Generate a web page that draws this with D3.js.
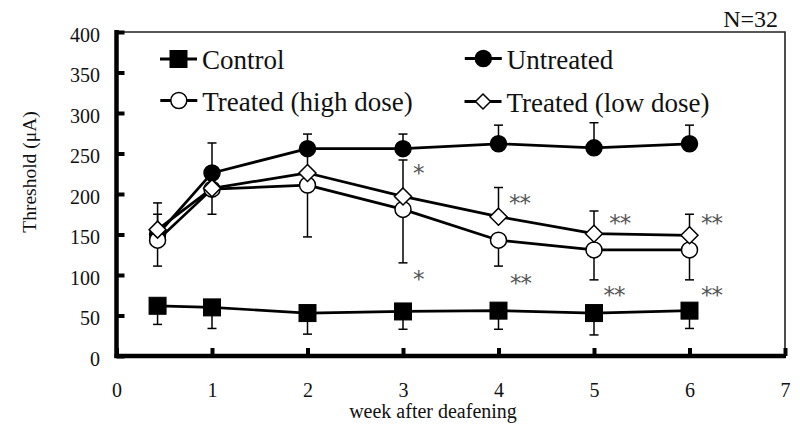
<!DOCTYPE html>
<html><head><meta charset="utf-8">
<script src="https://cdn.jsdelivr.net/npm/d3@7"></script>
<style>body{margin:0;background:#fff}svg{display:block}</style>
</head><body>
<svg id="c" width="800" height="432"></svg>
<script>
// ---- data ----
const weeks = [0.43, 1, 2, 3, 4, 5, 6];
const control = [62, 60, 53, 55, 56, 53, 56];
const controlErr = [23, 26, 26, 22, 23, 27, 22];          // drawn downward
const untreated = [150, 226, 256, 256, 262, 257, 262];
const untreatedErr = [25, 37, 18, 18, 23, 31, 23];        // drawn upward
const highDose = [143, 206, 211, 181, 143, 131, 131];
const highDoseErr = [32, 31, 64, 66, 32, 37, 37];         // drawn downward
const lowDose = [156, 207, 226, 197, 172, 151, 149];
const lowDoseErr = [33, 25, 25, 45, 36, 28, 26];          // drawn upward
const xTicks = [0, 1, 2, 3, 4, 5, 6, 7];
const yTicks = [0, 50, 100, 150, 200, 250, 300, 350, 400];
const seriesNames = ["Control", "Untreated", "Treated (high dose)", "Treated (low dose)"];
const stars = [
  {x: 3.16, y: 232, t: "*"}, {x: 3.16, y: 101, t: "*"},
  {x: 4.22, y: 195, t: "**"}, {x: 4.23, y: 96, t: "**"},
  {x: 5.27, y: 170, t: "**"}, {x: 5.21, y: 81, t: "**"},
  {x: 6.23, y: 170, t: "**"}, {x: 6.23, y: 81, t: "**"}
];
const nLabel = "N=32";
const xTitle = "week after deafening";
const yTitle = "Threshold (\u03bcA)";

// ---- chart ----
const svg = d3.select("#c");
const font = "'Liberation Serif','Times New Roman',serif";
const x = d3.scaleLinear().domain([0, 7]).range([116.5, 785]);
const y = d3.scaleLinear().domain([0, 400]).range([356, 32]);

const series = [
  {name: seriesNames[0], vals: control, err: controlErr, dir: -1, shape: "square", fill: "#000"},
  {name: seriesNames[1], vals: untreated, err: untreatedErr, dir: 1, shape: "circle", fill: "#000"},
  {name: seriesNames[2], vals: highDose, err: highDoseErr, dir: -1, shape: "circle", fill: "#fff"},
  {name: seriesNames[3], vals: lowDose, err: lowDoseErr, dir: 1, shape: "diamond", fill: "#fff"}
];

// border (thin top/right)
svg.append("path")
  .attr("d", `M${x(0)},${y(400)}H${x(7)}V${y(0)}`)
  .attr("fill", "none").attr("stroke", "#222").attr("stroke-width", 1.6);

// axes
const gy = svg.append("g").attr("transform", `translate(${x(0)},0)`)
  .call(d3.axisLeft(y).tickValues(yTicks).tickFormat(d3.format("d")).tickSizeInner(-8).tickSizeOuter(0).tickPadding(16.5));
const gx = svg.append("g").attr("transform", `translate(0,${y(0)})`)
  .call(d3.axisBottom(x).tickValues(xTicks).tickFormat(d3.format("d")).tickSizeInner(-8).tickSizeOuter(0).tickPadding(27));
[gy, gx].forEach(g => {
  g.select(".domain").attr("stroke", "#000").attr("stroke-width", 4.5);
  g.selectAll(".tick line").attr("stroke", "#000").attr("stroke-width", 4);
  g.selectAll(".tick text").attr("font-family", font).attr("font-size", 20).attr("fill", "#111");
});
gy.selectAll(".tick text").attr("dy", "0.45em");
gy.select(".domain").attr("d", `M0,${y(400)-2}V${y(0)+2}`);
gx.select(".domain").attr("d", `M${x(0)-2},0H${x(7)+1}`);

// titles
svg.append("text").attr("x", 433).attr("y", 418).attr("text-anchor", "middle")
  .attr("font-family", font).attr("font-size", 20).attr("fill", "#111").text(xTitle);
svg.append("text").attr("transform", "translate(36,172) rotate(-90)").attr("text-anchor", "middle")
  .attr("font-family", font).attr("font-size", 19.5).attr("fill", "#111").text(yTitle);
svg.append("text").attr("x", 778).attr("y", 26.5).attr("text-anchor", "end")
  .attr("font-family", font).attr("font-size", 24).attr("fill", "#111").text(nLabel);

// error bars
const eg = svg.append("g");
series.forEach(s => {
  s.vals.forEach((v, i) => {
    const xp = x(weeks[i]), y0 = y(v), y1 = y(v + s.dir * s.err[i]);
    eg.append("line").attr("x1", xp).attr("x2", xp).attr("y1", y0).attr("y2", y1)
      .attr("stroke", "#000").attr("stroke-width", 1.5);
    eg.append("line").attr("x1", xp - 4.5).attr("x2", xp + 4.5).attr("y1", y1).attr("y2", y1)
      .attr("stroke", "#000").attr("stroke-width", 1.5);
  });
});

// lines
const line = d3.line().x((d, i) => x(weeks[i])).y(d => y(d));
series.forEach(s => {
  svg.append("path").attr("d", line(s.vals)).attr("fill", "none")
    .attr("stroke", "#000").attr("stroke-width", 2.7).attr("stroke-linejoin", "round");
});

// markers
function marker(g, shape, cx, cy, fill, size) {
  if (shape === "square") {
    g.append("rect").attr("x", cx - size / 2).attr("y", cy - size / 2)
      .attr("width", size).attr("height", size).attr("fill", fill).attr("stroke", "#000").attr("stroke-width", 1);
  } else if (shape === "circle") {
    g.append("circle").attr("cx", cx).attr("cy", cy).attr("r", size / 2 - 0.5)
      .attr("fill", fill).attr("stroke", "#000").attr("stroke-width", 1.5);
  } else {
    const h = size / 2;
    g.append("path").attr("d", `M${cx},${cy - h}L${cx + h},${cy}L${cx},${cy + h}L${cx - h},${cy}Z`)
      .attr("fill", fill).attr("stroke", "#000").attr("stroke-width", 1.5);
  }
}
const mg = svg.append("g");
series.forEach(s => {
  s.vals.forEach((v, i) => marker(mg, s.shape, x(weeks[i]), y(v), s.fill, 17));
});

// stars
svg.append("g").selectAll("text").data(stars).join("text")
  .attr("x", d => x(d.x)).attr("y", d => y(d.y) + 13).attr("text-anchor", "middle")
  .attr("font-family", "'DejaVu Sans',sans-serif").attr("font-size", 23).attr("letter-spacing", -1)
  .attr("fill", "#555").text(d => d.t);

// legend
const legPos = [[178.5, 59], [483.3, 58.5], [178.8, 100.5], [483, 101.5]];
const lg = svg.append("g");
series.forEach((s, i) => {
  const [cx, cy] = legPos[i];
  lg.append("line").attr("x1", cx - 18.5).attr("x2", cx + 18.5).attr("y1", cy).attr("y2", cy)
    .attr("stroke", "#000").attr("stroke-width", 3);
  marker(lg, s.shape, cx, cy, s.fill, s.shape === "diamond" ? 15 : 17);
  lg.append("text").attr("x", cx + 23.5).attr("y", cy + 10).attr("font-family", font)
    .attr("font-size", 27).attr("fill", "#111").text(s.name);
});
</script>
</body></html>
